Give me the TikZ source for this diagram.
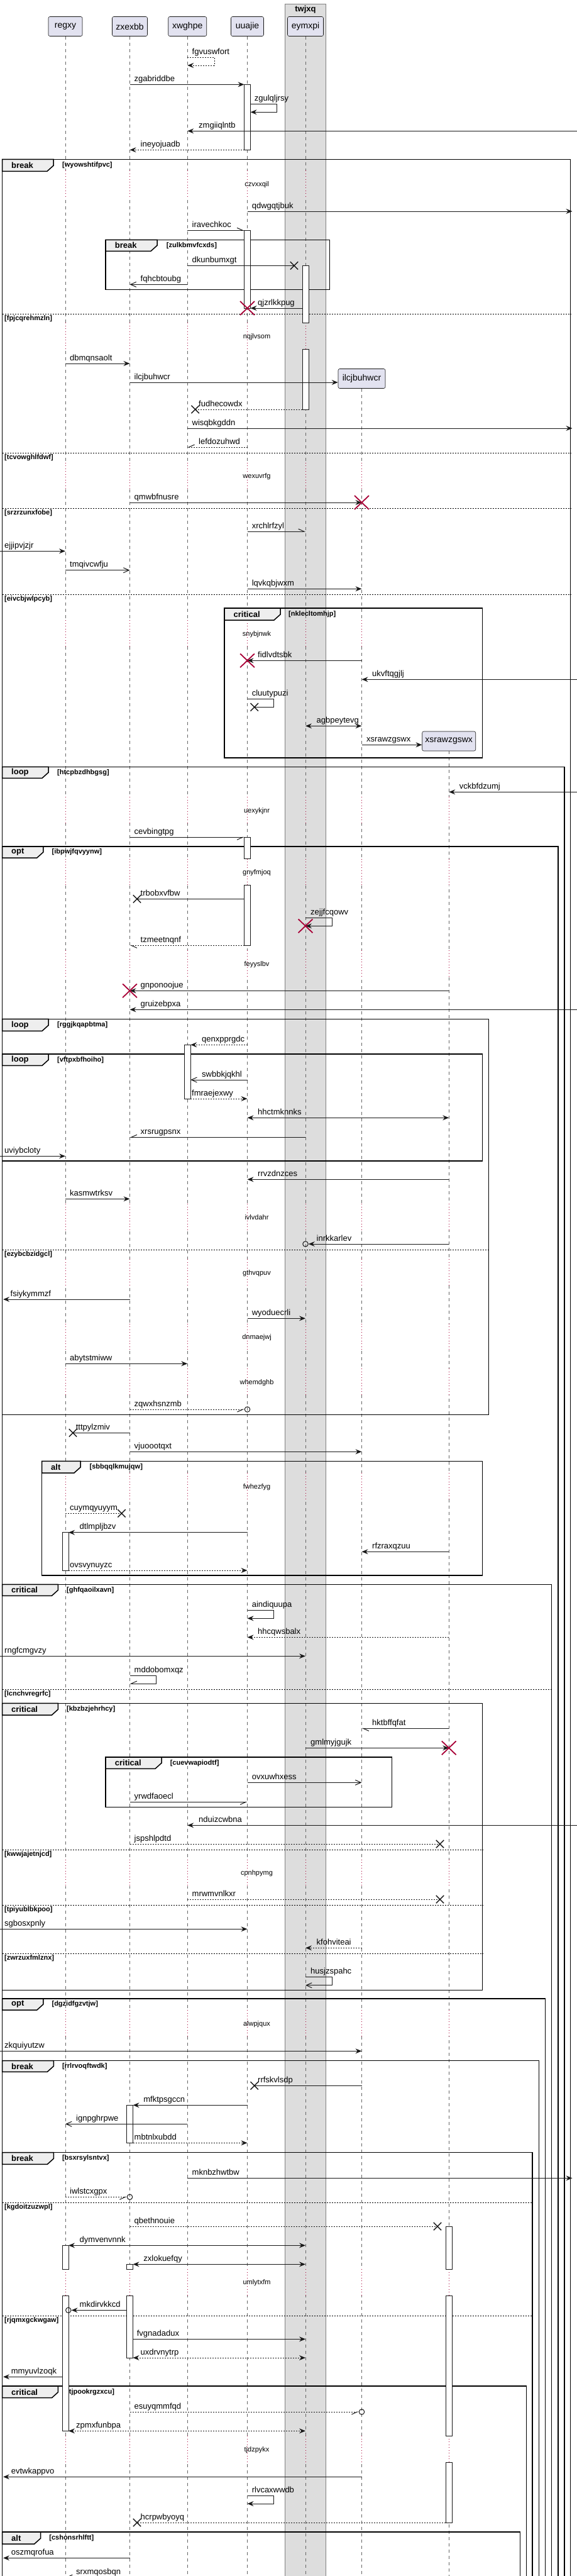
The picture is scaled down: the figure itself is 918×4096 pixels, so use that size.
\documentclass[tikz,border=0pt]{standalone}
\usepackage{fontspec}
\setmainfont{Liberation Sans}
\usetikzlibrary{arrows.meta, shapes.misc, positioning}

\definecolor{partfill}{HTML}{E2E2F0}
\definecolor{partline}{HTML}{181818}
\definecolor{boxfill}{HTML}{DDDDDD}
\definecolor{hdrfill}{HTML}{EEEEEE}
\definecolor{delayred}{HTML}{A80036}

\newcounter{msgno}
\newcounter{grpno}
% message: style, from, to, y, label x, text
\newcommand{\msg}[6]{%
  \stepcounter{msgno}%
  \draw[#1] (#2 |- 0,#4) -- (#3 |- 0,#4);
  \node[lbl] (m\arabic{msgno}) at (#5,#4) {#6};
}
% self message: style, lifeline, width, y1, y2, label x, text
\newcommand{\selfmsg}[7]{%
  \stepcounter{msgno}%
  \draw[#1] (#2 |- 0,#4) -- ++(#3,0) |- (#2 |- 0,#5);
  \node[lbl] (m\arabic{msgno}) at (#6,#4) {#7};
}
\newcommand{\act}[3]{\draw[actbox] (#1-5,#2) rectangle (#1+5,#3);}
% group: x1, y1, x2, y2, header right, header bottom, keyword, condition, condition x
\newcommand{\grp}[9]{%
  \stepcounter{grpno}%
  \draw[grpframe] (#1,#2) rectangle (#3,#4);
  \draw[grpframe, fill=hdrfill] (#1,#2) -- (#5,#2) -- (#5,#6-9) -- (#5-10,#6) -- (#1,#6) -- cycle;
  \node[kwtxt] (g\arabic{grpno}k) at (#1+14.5,{(#2+#6)/2}) {#7};
  \node[condtxt] (g\arabic{grpno}c) at (#9,{(#2+#6)/2}) {#8};
}
\newcommand{\divider}[4]{%
  \stepcounter{grpno}%
  \draw[elseline] (#1,#3) -- (#2,#3);
  \node[condtxt] (g\arabic{grpno}c) at (#1+3.5,#3+7.5) {#4};
}
\newcommand{\delay}[3]{%
  \stepcounter{grpno}%
  \foreach \lx in {#3} {
    \draw[line width=3pt, white] (\lx,#1-22) -- (\lx,#1+20);
    \draw[delayline] (\lx,#1-22) -- (\lx,#1+20);
  }
  \draw[line width=3pt, boxfill] (486,#1-22) -- (486,#1+20);
  \draw[delayline] (486,#1-22) -- (486,#1+20);
  \node[delaytxt] (g\arabic{grpno}d) at (408.5,#1) {#2};
}

\begin{document}
\begin{tikzpicture}[x=1pt, y=-1pt]
		\tikzstyle{partbox} = [rectangle, rounded corners=2.5pt, draw=partline, fill=partfill, line width=0.6pt, minimum height=31pt, inner sep=0pt, font=\fontsize{14}{16}\selectfont]
		\tikzstyle{lifeline} = [black!60, line width=0.6pt, dash pattern=on 5pt off 5pt]
		\tikzstyle{delayline} = [delayred, line width=1pt, dash pattern=on 1pt off 3.5pt]
		\tikzstyle{delaytxt} = [inner sep=0pt, font=\fontsize{11}{13}\selectfont]
		\tikzstyle{grpframe} = [black, line width=1.5pt]
		\tikzstyle{elseline} = [black, line width=1pt, dash pattern=on 2pt off 2pt]
		\tikzstyle{kwtxt} = [anchor=west, inner sep=0pt, font=\bfseries\fontsize{13}{15}\selectfont]
		\tikzstyle{condtxt} = [anchor=west, inner sep=0pt, font=\bfseries\fontsize{11}{13}\selectfont]
		\tikzstyle{actbox} = [draw=partline, fill=white, line width=0.8pt]
		\tikzstyle{lbl} = [anchor=base west, inner sep=0pt, yshift=5pt, font=\fontsize{13}{15}\selectfont]
		\tikzstyle{plainmsg} = [partline, line width=1pt]
		\tikzstyle{dashmsg} = [dash pattern=on 2pt off 2pt]
		\tikzstyle{sync} = [plainmsg, -{Stealth[length=10pt, width=8pt, inset=3.5pt]}]
		\tikzstyle{bidir} = [plainmsg, {Stealth[length=10pt, width=8pt, inset=3.5pt]}-{Stealth[length=10pt, width=8pt, inset=3.5pt]}]
		\tikzstyle{openarr} = [plainmsg, -{Straight Barb[length=9pt, width=8pt]}]
		\tikzstyle{halfl} = [plainmsg, -{Straight Barb[left, length=9pt, width=8pt]}]
		\tikzstyle{halfr} = [plainmsg, -{Straight Barb[right, length=9pt, width=8pt]}]
		\tikzstyle{lostx} = [cross out, draw=partline, line width=1.4pt, minimum size=11pt, inner sep=0pt]
		\tikzstyle{destroyx} = [cross out, draw=delayred, line width=1.8pt, minimum width=21pt, minimum height=20pt, inner sep=0pt]
		\tikzstyle{endcirc} = [circle, draw=partline, line width=1pt, minimum size=8.5pt, inner sep=0pt]
		
		\useasboundingbox (0,0) rectangle (918,4096);
		\clip (0,0) rectangle (918,4096);
		
		% box twjxq
		\fill[boxfill] (453.5,6) rectangle (518.8,4110);
		\draw[black!50, line width=0.8pt] (453.5,4110) -- (453.5,6) -- (518.8,6) -- (518.8,4110);
		\node[inner sep=0pt, font=\bfseries\fontsize{13}{15}\selectfont] (twjxq) at (486,15.5) {twjxq};
		
		% participants
		\node[partbox, minimum width=54pt] (regxy) at (104,42) {regxy};
		\node[partbox, minimum width=56pt] (zxexbb) at (206.5,42) {zxexbb};
		\node[partbox, minimum width=61pt] (xwghpe) at (298.2,42) {xwghpe};
		\node[partbox, minimum width=52pt] (uuajie) at (393.5,42) {uuajie};
		\node[partbox, minimum width=57pt] (eymxpi) at (486,42) {eymxpi};
		\node[partbox, minimum width=75pt] (ilcjbuhwcr) at (575.5,602) {ilcjbuhwcr};
		\node[partbox, minimum width=85pt] (xsrawzgswx) at (714.2,1178.5) {xsrawzgswx};
		
		\coordinate (lft) at (0,0);
		\coordinate (lfr) at (5,0);
		\coordinate (rgt) at (918,0);
		\coordinate (rfr) at (910.5,0);
		\coordinate (regxyL) at (99,0);
		\coordinate (regxyR) at (109,0);
		\coordinate (zxexbbL) at (201.5,0);
		\coordinate (zxexbbR) at (211.5,0);
		\coordinate (xwghpeR) at (303.2,0);
		\coordinate (uuajieL) at (388.5,0);
		\coordinate (uuajieR) at (398.5,0);
		\coordinate (eymxpiL) at (481,0);
		\coordinate (xsrawL) at (709.2,0);
		
		% lifelines
		\foreach \p in {regxy,zxexbb,xwghpe,uuajie,eymxpi,ilcjbuhwcr,xsrawzgswx}
			\draw[lifeline] (\p.south) -- (\p |- 0,4110);
		
		% delays
		\delay{293.3}{czvxxqil}{104,206.5,298.2,393.5}
		\delay{535.3}{nqjlvsom}{104,206.5,298.2,393.5}
		\delay{757.7}{wexuvrfg}{104,206.5,298.2,393.5,575.5}
		\delay{1008.3}{snybjnwk}{104,206.5,298.2,393.5,575.5}
		\delay{1289.3}{uexykjnr}{104,206.5,298.2,393.5,575.5,714.2}
		\delay{1387.7}{gnyfmjoq}{104,206.5,298.2,393.5,575.5,714.2}
		\delay{1533.3}{feyyslbv}{104,206.5,298.2,393.5,575.5,714.2}
		\delay{1936}{ivlvdahr}{104,206.5,298.2,393.5,575.5,714.2}
		\delay{2024.3}{gthvqpuv}{104,206.5,298.2,393.5,575.5,714.2}
		\delay{2126.7}{dnmaejwj}{104,206.5,298.2,393.5,575.5,714.2}
		\delay{2198.3}{whemdghb}{104,206.5,298.2,393.5,575.5,714.2}
		\delay{2364.3}{fwhezfyg}{104,206.5,298.2,393.5,575.5,714.2}
		\delay{2978.7}{cpnhpymg}{104,206.5,298.2,393.5,575.5,714.2}
		\delay{3218.3}{alwpjqux}{104,206.5,298.2,393.5,575.5,714.2}
		\delay{3630}{umlytxfm}{104,206.5,298.2,393.5,575.5,714.2}
		\delay{3895.3}{tjdzpykx}{104,206.5,298.2,393.5,575.5,714.2}
		
		% groups
		\grp{3.5}{253.3}{907.6}{4110}{85}{272.3}{break}{[wyowshtifpvc]}{99}
		\grp{168.2}{381.3}{524.7}{460.3}{250}{399.3}{break}{[zulkbmvfcxds]}{264.7}
		\divider{3.5}{907.6}{499.3}{[fpjcqrehmzln]}
		\divider{3.5}{907.6}{720.3}{[tcvowghlfdwf]}
		\divider{3.5}{907.6}{808.3}{[srzrzunxfobe]}
		\divider{3.5}{907.6}{945.3}{[eivcbjwlpcyb]}
		\grp{357}{967}{767.6}{1205}{446}{986}{critical}{[nklecltomhjp]}{459}
		\grp{3.5}{1219.3}{898}{4110}{77}{1237.3}{loop}{[htcpbzdhbgsg]}{91}
		\grp{3.5}{1346}{888.2}{4110}{68.8}{1364}{opt}{[ibpwjfqvyynw]}{82.4}
		\grp{3.5}{1620.3}{777.6}{2249.3}{77}{1639.3}{loop}{[rggjkqapbtma]}{91}
		\grp{3.5}{1676}{767.6}{1846}{77}{1694.3}{loop}{[vftpxbfhoiho]}{91}
		\divider{3.5}{777.6}{1987}{[ezybcbzidgcl]}
		\grp{66.5}{2323.3}{767.6}{2505}{128}{2342}{alt}{[sbbqqlkmujqw]}{142.4}
		\grp{3.5}{2519.3}{877.6}{4110}{92.4}{2537.3}{critical}{[ghfqaoilxavn]}{106}
		\divider{3.5}{877.6}{2686}{[lcnchvregrfc]}
		\grp{3.5}{2708.3}{767.6}{3164.3}{92.4}{2727}{critical}{[kbzbzjehrhcy]}{106}
		\grp{168.2}{2794}{623.5}{2873.3}{257}{2812.3}{critical}{[cuevwapiodtf]}{270.6}
		\divider{3.5}{767.6}{2941}{[kwwjajetnjcd]}
		\divider{3.5}{767.6}{3029}{[tpiyublbkpoo]}
		\divider{3.5}{767.6}{3106.3}{[zwrzuxfmlznx]}
		\grp{3.5}{3178}{867.6}{4110}{68.8}{3196}{opt}{[dgzidfgzvtjw]}{82.4}
		\grp{3.5}{3276.7}{857.6}{4110}{85.3}{3294.3}{break}{[rrlrvoqftwdk]}{98.8}
		\grp{3.5}{3422.7}{847}{4110}{85.3}{3441.3}{break}{[bsxrsylsntvx]}{98.8}
		\divider{3.5}{847}{3502.3}{[kgdoitzuzwpl]}
		\divider{3.5}{847}{3682.3}{[rjqmxgckwgaw]}
		\grp{3.5}{3794}{837.6}{4110}{92.4}{3812.7}{critical}{[tjpookrgzxcu]}{106}
		\grp{3.5}{4026}{827.6}{4110}{64.7}{4045}{alt}{[cshonsrhlftt]}{78.2}
		
		% activations
		\act{393.5}{134.3}{238.3}
		\act{393.5}{366.3}{490}
		\act{486}{422.3}{513.3}
		\act{486}{555.3}{651}
		\act{393.5}{1331.3}{1365.7}
		\act{393.5}{1407.7}{1503.3}
		\act{298.2}{1661.3}{1747}
		\act{104}{2436.7}{2497}
		\act{206.5}{3347.3}{3407.3}
		\act{714.2}{3540}{3608}
		\act{714.2}{3650}{3873.3}
		\act{714.2}{3915.3}{4011}
		\act{104}{3570.3}{3608}
		\act{104}{3650}{3865.3}
		\act{206.5}{3600.3}{3608}
		\act{206.5}{3650}{3749}
		
		% end marks
		\node[lostx] (lx1) at (468,422.3) {};
		\node[lostx] (lx2) at (310.6,651) {};
		\node[lostx] (lx3) at (404.7,1124.3) {};
		\node[lostx] (lx4) at (218,1429.3) {};
		\node[lostx] (lx5) at (116,2278.3) {};
		\node[lostx] (lx6) at (193.5,2406.3) {};
		\node[lostx] (lx7) at (700,2932) {};
		\node[lostx] (lx8) at (700,3020) {};
		\node[lostx] (lx9) at (404.7,3316.3) {};
		\node[lostx] (lx10) at (696,3540) {};
		\node[lostx] (lx11) at (218,4011) {};
		\node[endcirc] (c1) at (486,1978) {};
		\node[endcirc] (c2) at (393.5,2241) {};
		\node[endcirc] (c3) at (206.5,3493.3) {};
		\node[endcirc] (c4) at (108.8,3673.3) {};
		\node[endcirc] (c5) at (575.5,3835) {};
		
		% messages
		\selfmsg{sync,dashmsg}{xwghpe}{43}{91}{104}{305.5}{fgvuswfort}
		\msg{sync}{zxexbb}{uuajieL}{134.3}{213.5}{zgabriddbe}
		\selfmsg{sync}{uuajieR}{41.5}{165}{178.3}{404.7}{zgulqljrsy}
		\msg{sync}{rgt}{xwghpe}{208.3}{316}{zmgiiqlntb}
		\msg{sync,dashmsg}{uuajieL}{zxexbb}{238.3}{223.5}{ineyojuadb}
		\msg{sync}{uuajie}{rfr}{336}{400.6}{qdwgqtjbuk}
		\msg{halfl}{xwghpe}{uuajieL}{366.3}{305.5}{iravechkoc}
		\msg{plainmsg}{xwghpe}{lx1}{422.3}{305.5}{dkunbumxgt}
		\msg{openarr}{xwghpe}{zxexbb}{452.3}{223.5}{fqhcbtoubg}
		\msg{sync}{eymxpiL}{uuajieR}{490}{410}{qjzrlkkpug}
		\msg{sync}{regxy}{zxexbb}{578}{111}{dbmqnsaolt}
		\msg{sync}{zxexbb}{ilcjbuhwcr.west}{608}{213.5}{ilcjbuhwcr}
		\msg{plainmsg,dashmsg}{eymxpiL}{lx2}{651}{316}{fudhecowdx}
		\msg{sync}{xwghpe}{rfr}{681}{305.5}{wisqbkgddn}
		\msg{halfr,dashmsg}{uuajie}{xwghpe}{711}{316}{lefdozuhwd}
		\msg{sync}{zxexbb}{ilcjbuhwcr}{799}{213.5}{qmwbfnusre}
		\msg{halfl}{uuajie}{eymxpi}{845}{400.6}{xrchlrfzyl}
		\msg{sync}{lft}{regxy}{876.3}{7}{ejjipvjzjr}
		\msg{openarr}{regxy}{zxexbb}{906.7}{111}{tmqivcwfju}
		\msg{sync}{uuajie}{ilcjbuhwcr}{936.3}{400.6}{lqvkqbjwxm}
		\msg{sync}{ilcjbuhwcr}{uuajie}{1050.3}{410}{fidlvdtsbk}
		\msg{sync}{rgt}{ilcjbuhwcr}{1080.3}{592}{ukvftqgjlj}
		\draw[plainmsg] (uuajie |- 0,1111) -- ++(41.5,0) |- (lx3.center);
		\node[lbl] (m23) at (400.6,1111) {cluutypuzi};
		\setcounter{msgno}{23}
		\msg{bidir}{eymxpi}{ilcjbuhwcr}{1154.3}{503.5}{agbpeytevg}
		\msg{sync}{ilcjbuhwcr}{xsrawzgswx.west}{1184.3}{583}{xsrawzgswx}
		\msg{sync}{rgt}{xsrawzgswx}{1259.3}{730.6}{vckbfdzumj}
		\msg{halfr}{zxexbb}{uuajieL}{1331.3}{213.5}{cevbingtpg}
		\msg{plainmsg}{uuajieL}{lx4}{1429.3}{223.5}{trbobxvfbw}
		\selfmsg{sync}{eymxpi}{42}{1459.3}{1472.3}{494}{zejjfcqowv}
		\msg{halfl,dashmsg}{uuajieL}{zxexbb}{1503.3}{223.5}{tzmeetnqnf}
		\msg{sync}{xsrawzgswx}{zxexbb}{1575.3}{223.5}{gnponoojue}
		\msg{sync}{rgt}{zxexbb}{1605.3}{223.5}{gruizebpxa}
		\msg{sync,dashmsg}{uuajie}{xwghpeR}{1661.3}{321}{qenxpprgdc}
		\msg{openarr}{uuajie}{xwghpeR}{1717}{321}{swbbkjqkhl}
		\msg{sync,dashmsg}{xwghpeR}{uuajie}{1747}{305}{fmraejexwy}
		\msg{bidir}{uuajie}{xsrawzgswx}{1777.3}{410}{hhctmknnks}
		\msg{halfr}{eymxpi}{zxexbb}{1808.3}{223.5}{xrsrugpsnx}
		\msg{sync}{lft}{regxy}{1838.3}{7}{uviybcloty}
		\msg{sync}{xsrawzgswx}{uuajie}{1875.3}{410}{rrvzdnzces}
		\msg{sync}{regxy}{zxexbb}{1906.3}{111}{kasmwtrksv}
		\msg{sync}{xsrawzgswx}{c1.east}{1978}{503.5}{inrkkarlev}
		\msg{sync}{zxexbb}{lfr}{2066}{16.5}{fsiykymmzf}
		\msg{sync}{uuajie}{eymxpi}{2096.3}{400.6}{wyoduecrli}
		\msg{sync}{regxy}{xwghpe}{2168.3}{111}{abytstmiww}
		\msg{halfr,dashmsg}{zxexbb}{c2.west}{2241}{213.5}{zqwxhsnzmb}
		\msg{plainmsg}{zxexbb}{lx5}{2278.3}{120.6}{tttpylzmiv}
		\msg{sync}{zxexbb}{ilcjbuhwcr}{2308.3}{213.5}{vjuoootqxt}
		\msg{plainmsg,dashmsg}{regxy}{lx6}{2406.3}{111}{cuymqyuyym}
		\msg{sync}{uuajie}{regxyR}{2436.7}{126.5}{dtlmpljbzv}
		\msg{sync}{xsrawzgswx}{ilcjbuhwcr}{2467.3}{592}{rfzraxqzuu}
		\msg{sync,dashmsg}{regxyR}{uuajie}{2497}{111}{ovsvynuyzc}
		\selfmsg{sync}{uuajie}{41.5}{2560.3}{2573.3}{400.6}{aindiquupa}
		\msg{sync,dashmsg}{xsrawzgswx}{uuajie}{2603.3}{410}{hhcqwsbalx}
		\msg{sync}{lft}{eymxpi}{2633.3}{7}{rngfcmgvzy}
		\selfmsg{halfr}{zxexbb}{42.3}{2664.3}{2677}{213.5}{mddobomxqz}
		\msg{halfl}{xsrawzgswx}{ilcjbuhwcr}{2748.3}{592}{hktbffqfat}
		\msg{sync}{eymxpi}{xsrawzgswx}{2779.3}{494}{gmlmyjgujk}
		\msg{openarr}{uuajie}{ilcjbuhwcr}{2834.3}{400.6}{ovxuwhxess}
		\msg{halfr}{zxexbb}{uuajie}{2865.3}{213.5}{yrwdfaoecl}
		\msg{sync}{rgt}{xwghpe}{2902.3}{316}{nduizcwbna}
		\msg{plainmsg,dashmsg}{zxexbb}{lx7}{2932}{213.5}{jspshlpdtd}
		\msg{plainmsg,dashmsg}{xwghpe}{lx8}{3020}{305.5}{mrwmvnlkxr}
		\msg{sync}{lft}{uuajie}{3067.3}{7}{sgbosxpnly}
		\msg{sync,dashmsg}{ilcjbuhwcr}{eymxpi}{3097.3}{503.5}{kfohviteai}
		\selfmsg{openarr}{eymxpi}{42}{3143.3}{3156.7}{494}{husjzspahc}
		\msg{sync}{lft}{ilcjbuhwcr}{3261.3}{7}{zkquiyutzw}
		\msg{plainmsg}{ilcjbuhwcr}{lx9}{3316.3}{410}{rrfskvlsdp}
		\msg{sync}{uuajie}{zxexbbR}{3347.3}{228.2}{mfktpsgccn}
		\msg{openarr}{xwghpe}{regxy}{3377.3}{121}{ignpghrpwe}
		\msg{sync,dashmsg}{zxexbbR}{uuajie}{3407.3}{213.5}{mbtnlxubdd}
		\msg{sync}{xwghpe}{rfr}{3463.3}{305.5}{mknbzhwtbw}
		\msg{halfr,dashmsg}{regxy}{c3.west}{3493.3}{111}{iwlstcxgpx}
		\msg{plainmsg,dashmsg}{zxexbb}{lx10}{3540}{213.5}{qbethnouie}
		\msg{bidir}{regxyR}{eymxpi}{3570.3}{126.5}{dymvenvnnk}
		\msg{bidir}{zxexbbR}{eymxpi}{3600.3}{228.2}{zxlokuefqy}
		\msg{sync}{zxexbbL}{c4.east}{3673.3}{126.5}{mkdirvkkcd}
		\msg{sync}{zxexbbR}{eymxpi}{3719.3}{217.6}{fvgnadadux}
		\msg{bidir,dashmsg}{zxexbbR}{eymxpi}{3749}{223.5}{uxdrvnytrp}
		\msg{sync}{regxyL}{lfr}{3779.3}{17.6}{mmyuvlzoqk}
		\msg{halfr,dashmsg}{zxexbb}{c5.west}{3835}{213.5}{esuyqmmfqd}
		\msg{bidir,dashmsg}{regxyR}{eymxpi}{3865.3}{121}{zpmxfunbpa}
		\msg{sync}{ilcjbuhwcr}{lfr}{3938.3}{17.6}{evtwkappvo}
		\selfmsg{sync}{uuajie}{41.5}{3968.3}{3981}{400.6}{rlvcaxwwdb}
		\msg{plainmsg,dashmsg}{xsrawL}{lx11}{4011}{223.5}{hcrpwbyoyq}
		\msg{sync}{zxexbb}{lfr}{4067.3}{17.6}{oszmqrofua}
		\msg{halfr}{zxexbb}{regxy}{4098}{121}{srxmqosbqn}
		
		% destroyed lifelines
		\node[destroyx] (d1) at (393.5,490) {};
		\node[destroyx] (d2) at (575.5,799) {};
		\node[destroyx] (d3) at (393.5,1050.3) {};
		\node[destroyx] (d4) at (486,1472.3) {};
		\node[destroyx] (d5) at (206.5,1575.3) {};
		\node[destroyx] (d6) at (714.2,2779.3) {};
\end{tikzpicture}
\end{document}
